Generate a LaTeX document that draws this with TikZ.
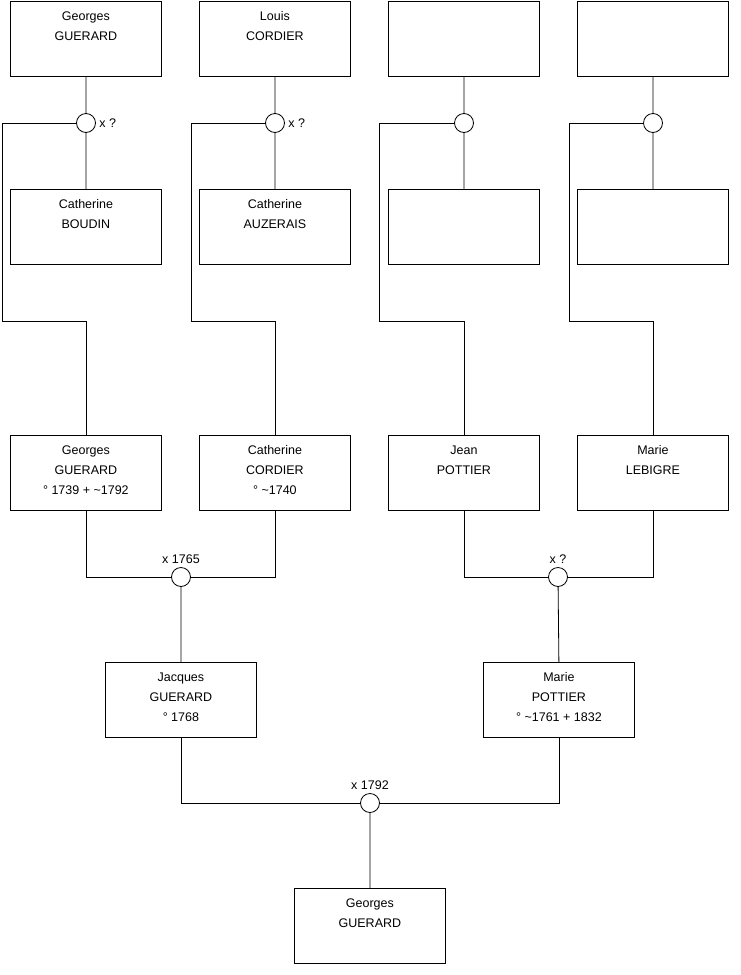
\documentclass[tikz,border=0pt]{standalone}
\usepackage{fontspec}
\setmainfont{Liberation Sans}
\newcommand{\fiche}[1]{\parbox[t][75pt][t]{151pt}{\centering\rule{0pt}{19pt}#1}}
\tikzset{
  personne/.style={draw, rectangle, inner sep=0pt, anchor=north west, line width=0.8pt},
  union/.style={draw, circle, fill=white, minimum size=19pt, inner sep=0pt, line width=0.8pt},
  lien/.style={line width=0.8pt},
}
\begin{document}
\begin{tikzpicture}[x=1pt, y=-1pt, font=\fontsize{12.5}{20}\selectfont]
    \useasboundingbox (0,0) rectangle (740,975);
    % Generation 1
    \node[personne] (p1) at (10,1) {\fiche{Georges\\GUERARD}};
    \node[personne] (p2) at (199,1) {\fiche{Louis\\CORDIER}};
    \node[personne] (p3) at (388,1) {\fiche{}};
    \node[personne] (p4) at (577,1) {\fiche{}};
    \node[personne] (p5) at (10,189) {\fiche{Catherine\\BOUDIN}};
    \node[personne] (p6) at (199,189) {\fiche{Catherine\\AUZERAIS}};
    \node[personne] (p7) at (388,189) {\fiche{}};
    \node[personne] (p8) at (577,189) {\fiche{}};
    \node[union, label={east:x ?}] (u1) at (86,123) {};
    \node[union, label={east:x ?}] (u2) at (275,123) {};
    \node[union] (u3) at (464,123) {};
    \node[union] (u4) at (653,123) {};
    % Generation 2
    \node[personne] (g1) at (10,435) {\fiche{Georges\\GUERARD\\° 1739 + \textasciitilde 1792}};
    \node[personne] (g2) at (199,435) {\fiche{Catherine\\CORDIER\\° \textasciitilde 1740}};
    \node[personne] (g3) at (388,435) {\fiche{Jean\\POTTIER}};
    \node[personne] (g4) at (577,435) {\fiche{Marie\\LEBIGRE}};
    \node[union, label={north:x 1765}] (u5) at (181,577) {};
    \node[union, label={north:x ?}] (u6) at (558,577) {};
    % Generation 3
    \node[personne] (f1) at (105,662) {\fiche{Jacques\\GUERARD\\° 1768}};
    \node[personne] (f2) at (483,662) {\fiche{Marie\\POTTIER\\° \textasciitilde 1761 + 1832}};
    \node[union, label={north:x 1792}] (u7) at (370,803) {};
    \node[personne] (e1) at (294,888) {\fiche{Georges\\GUERARD}};
    % liens
    \foreach \a/\u/\b/\x in {p1/u1/p5/2, p2/u2/p6/191, p3/u3/p7/379, p4/u4/p8/569} {
        \draw[lien] (\a.south) -- (\u);
        \draw[lien] (\u) -- (\b.north);
    }
    \draw[lien] (u1.west) -| (2,321) -| (g1.north);
    \draw[lien] (u2.west) -| (191,321) -| (g2.north);
    \draw[lien] (u3.west) -| (379,321) -| (g3.north);
    \draw[lien] (u4.west) -| (569,321) -| (g4.north);
    \draw[lien] (g1.south) |- (u5.west);
    \draw[lien] (g2.south) |- (u5.east);
    \draw[lien] (g3.south) |- (u6.west);
    \draw[lien] (g4.south) |- (u6.east);
    \draw[lien] (u5) -- (f1.north);
    \draw[lien] (u6) -- (f2.north);
    \draw[lien] (f1.south) |- (u7.west);
    \draw[lien] (f2.south) |- (u7.east);
    \draw[lien] (u7) -- (e1.north);
\end{tikzpicture}
\end{document}
